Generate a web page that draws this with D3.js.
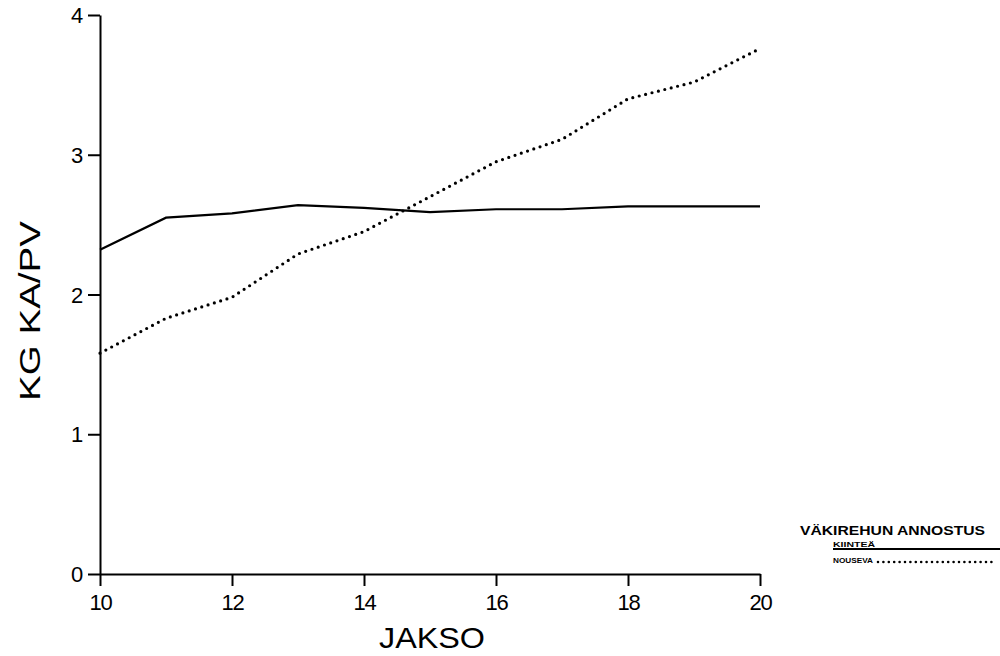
<!DOCTYPE html>
<html>
<head>
<meta charset="utf-8">
<script src="https://cdn.jsdelivr.net/npm/d3@7"></script>
<style>
  body { margin: 0; background: #fff; }
  svg { display: block; }
  text { font-family: "Liberation Sans", Arial, sans-serif; fill: #000; }
</style>
</head>
<body>
<svg id="chart" width="1000" height="656"></svg>
<script>
// periods (JAKSO)
const jakso = [10, 11, 12, 13, 14, 15, 16, 17, 18, 19, 20];
// KG KA/PV, fixed concentrate dose
const kiintea = [2.32, 2.55, 2.58, 2.64, 2.62, 2.59, 2.61, 2.61, 2.63, 2.63, 2.63];
// KG KA/PV, rising concentrate dose
const nouseva = [1.58, 1.83, 1.98, 2.29, 2.45, 2.70, 2.95, 3.11, 3.40, 3.52, 3.76];
const xTicks = [10, 12, 14, 16, 18, 20];
const yTicks = [0, 1, 2, 3, 4];

const svg = d3.select("#chart");
const x = d3.scaleLinear().domain([10, 20]).range([100, 760]);
const y = d3.scaleLinear().domain([0, 4]).range([574, 15]);

// axes
const yAxis = d3.axisLeft(y).tickValues(yTicks).tickFormat(d3.format("d"))
  .tickSize(12).tickPadding(6).tickSizeOuter(0);
const xAxis = d3.axisBottom(x).tickValues(xTicks).tickFormat(d3.format("d"))
  .tickSize(12).tickPadding(5).tickSizeOuter(0);

const gy = svg.append("g").attr("transform", "translate(100,0)").call(yAxis);
const gx = svg.append("g").attr("transform", "translate(0,574)").call(xAxis);
[gy, gx].forEach(g => {
  g.select(".domain").attr("stroke", "#000").attr("stroke-width", 2);
  g.selectAll(".tick line").attr("stroke", "#000").attr("stroke-width", 2);
  g.selectAll(".tick text").attr("font-size", 22).attr("fill", "#000")
    .attr("letter-spacing", -1.2);
});
gy.selectAll(".tick text").attr("dy", "0.35em");
gx.selectAll(".tick text").attr("dy", "0.85em");

// axis titles
svg.append("text")
  .attr("x", 432).attr("y", 648)
  .attr("text-anchor", "middle")
  .attr("font-size", 30)
  .attr("textLength", 106)
  .attr("lengthAdjust", "spacingAndGlyphs")
  .text("JAKSO");

svg.append("text")
  .attr("transform", "translate(40,311) rotate(-90)")
  .attr("text-anchor", "middle")
  .attr("font-size", 29)
  .attr("textLength", 180)
  .attr("lengthAdjust", "spacingAndGlyphs")
  .text("KG KA/PV");

// lines
const line = d3.line().x(d => x(d[0])).y(d => y(d[1]));

svg.append("path")
  .datum(jakso.map((j, i) => [j, kiintea[i]]))
  .attr("d", line)
  .attr("fill", "none")
  .attr("stroke", "#000")
  .attr("stroke-width", 2.2);

svg.append("path")
  .datum(jakso.map((j, i) => [j, nouseva[i]]))
  .attr("d", line)
  .attr("fill", "none")
  .attr("stroke", "#000")
  .attr("stroke-width", 3.2)
  .attr("stroke-linecap", "round")
  .attr("stroke-dasharray", "0 6.6");

// legend
const leg = svg.append("g");
leg.append("text")
  .attr("x", 800).attr("y", 535)
  .attr("font-weight", "bold")
  .attr("font-size", 13)
  .attr("textLength", 185)
  .attr("lengthAdjust", "spacingAndGlyphs")
  .text("VÄKIREHUN ANNOSTUS");

leg.append("text")
  .attr("x", 833).attr("y", 547)
  .attr("font-weight", "bold")
  .attr("font-size", 8)
  .attr("textLength", 42)
  .attr("lengthAdjust", "spacingAndGlyphs")
  .text("KIINTEÄ");
leg.append("line")
  .attr("x1", 833).attr("x2", 1000).attr("y1", 549).attr("y2", 549)
  .attr("stroke", "#000").attr("stroke-width", 1.8);

leg.append("text")
  .attr("x", 833).attr("y", 563)
  .attr("font-weight", "bold")
  .attr("font-size", 8)
  .attr("textLength", 40)
  .attr("lengthAdjust", "spacingAndGlyphs")
  .text("NOUSEVA");
leg.append("line")
  .attr("x1", 878).attr("x2", 996).attr("y1", 562).attr("y2", 562)
  .attr("stroke", "#000").attr("stroke-width", 2.6)
  .attr("stroke-linecap", "round")
  .attr("stroke-dasharray", "0 5.4");
</script>
</body>
</html>
